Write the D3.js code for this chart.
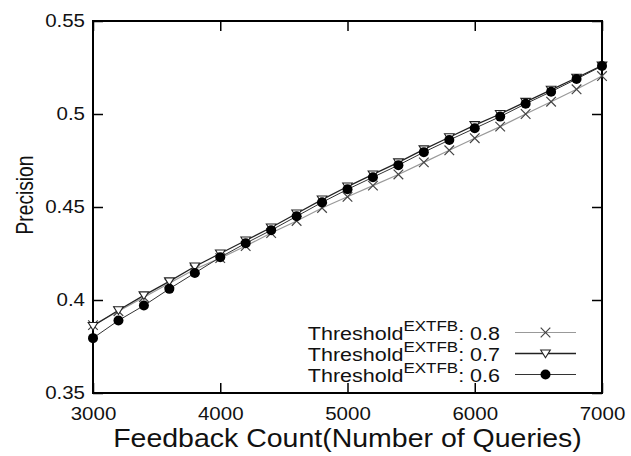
<!DOCTYPE html>
<html>
<head>
<meta charset="utf-8">
<script src="https://cdn.jsdelivr.net/npm/d3@7"></script>
<style>
    body { margin: 0; background: #fff; }
    svg { display: block; font-family: "Liberation Sans", Arial, sans-serif; }
</style>
</head>
<body>
<div id="chart"></div>
<script>
// feedback count (x)
const feedbackCounts = [3000, 3200, 3400, 3600, 3800, 4000, 4200, 4400, 4600, 4800,
    5000, 5200, 5400, 5600, 5800, 6000, 6200, 6400, 6600, 6800, 7000];

// precision per threshold
const thr08 = [0.3865, 0.394, 0.4015, 0.409, 0.4165, 0.4225, 0.429, 0.436, 0.4425, 0.4495,
    0.4555, 0.4615, 0.4675, 0.474, 0.4805, 0.487, 0.4932, 0.500, 0.5066, 0.5133, 0.5204];
const thr07 = [0.386, 0.3945, 0.4025, 0.410, 0.418, 0.425, 0.432, 0.439, 0.4465, 0.454,
    0.461, 0.4675, 0.474, 0.481, 0.4875, 0.494, 0.500, 0.5065, 0.513, 0.5195, 0.526];
const thr06 = [0.3795, 0.389, 0.397, 0.406, 0.4145, 0.423, 0.4305, 0.4375, 0.445, 0.4525,
    0.4595, 0.466, 0.4725, 0.4795, 0.486, 0.4923, 0.4986, 0.5055, 0.512, 0.5188, 0.5258];

const seriesNames = ["0.8", "0.7", "0.6"];
const xTicks = [3000, 4000, 5000, 6000, 7000];
const yTicks = [0.35, 0.4, 0.45, 0.5, 0.55];
const yTickLabels = ["0.35", "0.4", "0.45", "0.5", "0.55"];

const width = 631, height = 456;
const margin = { top: 21, right: 29, bottom: 63, left: 93 };
// the source figure is squashed a bit vertically, so text is too
const squash = 0.88;

const svg = d3.select("#chart").append("svg")
    .attr("width", width)
    .attr("height", height);

const x = d3.scaleLinear().domain([3000, 7000]).range([margin.left, width - margin.right]);
const y = d3.scaleLinear().domain([0.35, 0.55]).range([height - margin.bottom, margin.top]);

// axes, ticks point inward and are mirrored like gnuplot
svg.append("g")
    .attr("transform", `translate(0,${height - margin.bottom})`)
    .call(d3.axisBottom(x).tickValues(xTicks).tickSizeInner(-10).tickSizeOuter(0).tickPadding(16).tickFormat(d3.format("d")));
svg.append("g")
    .attr("transform", `translate(${margin.left},0)`)
    .call(d3.axisLeft(y).tickValues(yTicks).tickSizeInner(-10).tickSizeOuter(0).tickPadding(8)
        .tickFormat((d, i) => yTickLabels[i]));
svg.append("g")
    .attr("transform", `translate(0,${margin.top})`)
    .call(d3.axisTop(x).tickValues(xTicks).tickSizeInner(-10).tickSizeOuter(0).tickFormat(""));
svg.append("g")
    .attr("transform", `translate(${width - margin.right},0)`)
    .call(d3.axisRight(y).tickValues(yTicks).tickSizeInner(-10).tickSizeOuter(0).tickFormat(""));

svg.selectAll(".domain").remove();
svg.selectAll(".tick line").attr("stroke", "#000").attr("stroke-width", 1.5);
svg.selectAll(".tick text")
    .attr("fill", "#111")
    .attr("transform", `scale(1,${squash})`)
    .style("font-size", "20.5px");

svg.append("rect")
    .attr("x", margin.left)
    .attr("y", margin.top)
    .attr("width", width - margin.left - margin.right)
    .attr("height", height - margin.top - margin.bottom)
    .attr("fill", "none")
    .attr("stroke", "#000")
    .attr("stroke-width", 2);

// axis titles
svg.append("text")
    .attr("transform", `translate(${(margin.left + width - margin.right) / 2},447) scale(1,${squash})`)
    .attr("text-anchor", "middle")
    .attr("fill", "#111")
    .style("font-size", "28.5px")
    .text("Feedback Count(Number of Queries)");

svg.append("text")
    .attr("transform", "translate(33,195) rotate(-90) scale(0.8,1)")
    .attr("text-anchor", "middle")
    .attr("fill", "#111")
    .style("font-size", "24px")
    .text("Precision");

// series styles
const styles = [
    { values: thr08, line: "#999", lw: 1.2, marker: "cross" },
    { values: thr07, line: "#222", lw: 1.3, marker: "tri" },
    { values: thr06, line: "#333", lw: 1, marker: "dot" }
];

function drawMarker(g, kind, cx, cy) {
    if (kind === "cross") {
        g.append("path")
            .attr("d", `M${cx - 4.8},${cy - 4.8}L${cx + 4.8},${cy + 4.8}M${cx - 4.8},${cy + 4.8}L${cx + 4.8},${cy - 4.8}`)
            .attr("stroke", "#444")
            .attr("stroke-width", 1.2)
            .attr("fill", "none");
    } else if (kind === "tri") {
        g.append("path")
            .attr("d", `M${cx - 4.8},${cy - 3.5}L${cx + 4.8},${cy - 3.5}L${cx},${cy + 4.2}Z`)
            .attr("stroke", "#222")
            .attr("stroke-width", 1.1)
            .attr("fill", "#fff");
    } else {
        g.append("circle")
            .attr("cx", cx)
            .attr("cy", cy)
            .attr("r", 5)
            .attr("fill", "#000");
    }
}

const line = d3.line()
    .x((d, i) => x(feedbackCounts[i]))
    .y(d => y(d));

styles.forEach(s => {
    const g = svg.append("g");
    g.append("path")
        .datum(s.values)
        .attr("d", line)
        .attr("fill", "none")
        .attr("stroke", s.line)
        .attr("stroke-width", s.lw);
    s.values.forEach((v, i) => drawMarker(g, s.marker, x(feedbackCounts[i]), y(v)));
});

// legend
const legendRows = [332.5, 353.5, 374.5];
styles.forEach((s, i) => {
    const cy = legendRows[i];
    const t = svg.append("text")
        .attr("transform", `translate(500,${cy + 7.5}) scale(1,${squash})`)
        .attr("text-anchor", "end")
        .attr("fill", "#111")
        .style("font-size", "21.5px");
    t.append("tspan").text("Threshold");
    t.append("tspan").attr("dy", -10.5).style("font-size", "17px").text("EXTFB");
    t.append("tspan").attr("dy", 10.5).text(": " + seriesNames[i]);

    const g = svg.append("g");
    g.append("line")
        .attr("x1", 515).attr("x2", 576)
        .attr("y1", cy).attr("y2", cy)
        .attr("stroke", s.line)
        .attr("stroke-width", s.lw);
    drawMarker(g, s.marker, 545.5, cy);
});
</script>
</body>
</html>
